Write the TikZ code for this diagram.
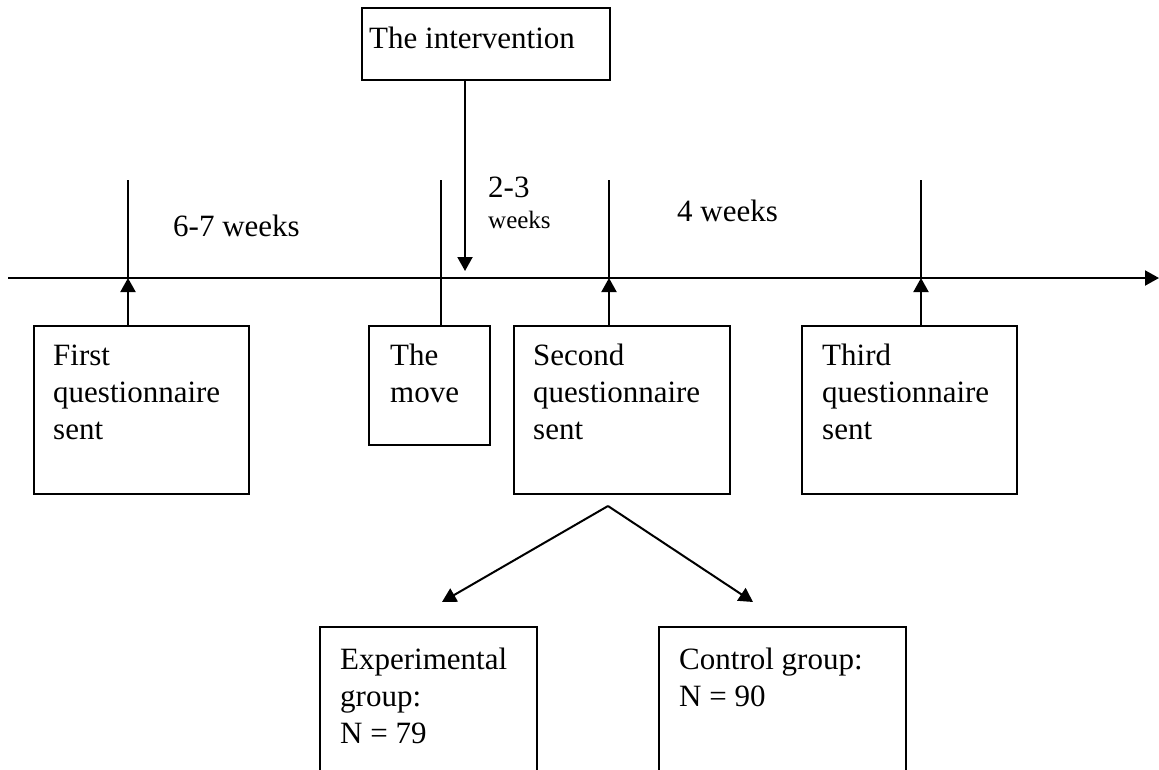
\documentclass[tikz,border=0pt]{standalone}
\usepackage{fontspec}
\setmainfont{Liberation Serif}
\usetikzlibrary{arrows.meta}
\newcommand{\mylines}[2]{\parbox[t]{#1}{\raggedright #2}}
\begin{document}
\begin{tikzpicture}[x=1pt,y=-1pt,
  every node/.style={font=\fontsize{31}{37}\selectfont},
  box/.style={draw,line width=2pt,rectangle,anchor=north west,inner sep=0pt},
  txt/.style={anchor=base west,inner sep=0pt},
  ln/.style={line width=2pt},
  arr/.style={line width=2pt,-{Triangle[length=14pt,width=15pt]}}]
\clip (0,0) rectangle (1159,769);
\fill[white] (0,0) rectangle (1159,769);
% timeline
\coordinate (tl) at (8,278);
\coordinate (tr) at (1159,278);
\draw[arr] (tl) -- (tr);
% intervention
\node[box,minimum width=248pt,minimum height=72pt] (int) at (361,7) {};
\node[txt] (intt) at (369,48) {The intervention};
\coordinate (ia) at (465,271);
\draw[arr] (int.south -| ia) -- (ia);
% boxes
\node[box,minimum width=215pt,minimum height=168pt] (b1) at (33,325) {};
\node[txt] (b1t) at (53,365) {\mylines{200pt}{First\\questionnaire\\sent}};
\node[box,minimum width=121pt,minimum height=119pt] (bm) at (368,325) {};
\node[txt] (bmt) at (390,365) {\mylines{100pt}{The\\move}};
\node[box,minimum width=216pt,minimum height=168pt] (b2) at (513,325) {};
\node[txt] (b2t) at (533,365) {\mylines{200pt}{Second\\questionnaire\\sent}};
\node[box,minimum width=215pt,minimum height=168pt] (b3) at (801,325) {};
\node[txt] (b3t) at (822,365) {\mylines{200pt}{Third\\questionnaire\\sent}};
% ticks
\coordinate (a1) at (128,278); \coordinate (t1) at (128,180);
\coordinate (am) at (441,278); \coordinate (tm) at (441,180);
\coordinate (a2) at (609,278); \coordinate (t2) at (609,180);
\coordinate (a3) at (921,278); \coordinate (t3) at (921,180);
\draw[ln] (t1) -- (a1);
\draw[ln] (t2) -- (a2);
\draw[ln] (t3) -- (a3);
\draw[ln] (tm) -- (bm.north -| tm);
\draw[arr] (b1.north -| a1) -- (a1);
\draw[arr] (b2.north -| a2) -- (a2);
\draw[arr] (b3.north -| a3) -- (a3);
% interval labels
\node[txt] (l1) at (173,236) {6-7 weeks};
\node[txt] (l2) at (488,197) {2-3};
\node[txt,font=\fontsize{25}{30}\selectfont] (l2b) at (488,228) {weeks};
\node[txt] (l3) at (677,221) {4 weeks};
% split
\coordinate (sp) at (608,506);
\coordinate (el) at (442,602);
\coordinate (er) at (753,602);
\draw[arr] (sp) -- (el);
\draw[arr] (sp) -- (er);
% groups
\node[box,minimum width=217pt,minimum height=200pt] (ge) at (319,626) {};
\node[txt] (get) at (340,669) {\mylines{200pt}{Experimental\\group:\\N = 79}};
\node[box,minimum width=247pt,minimum height=200pt] (gc) at (658,626) {};
\node[txt] (gct) at (679,669) {\mylines{230pt}{Control group:\\N = 90}};
\end{tikzpicture}
\end{document}
